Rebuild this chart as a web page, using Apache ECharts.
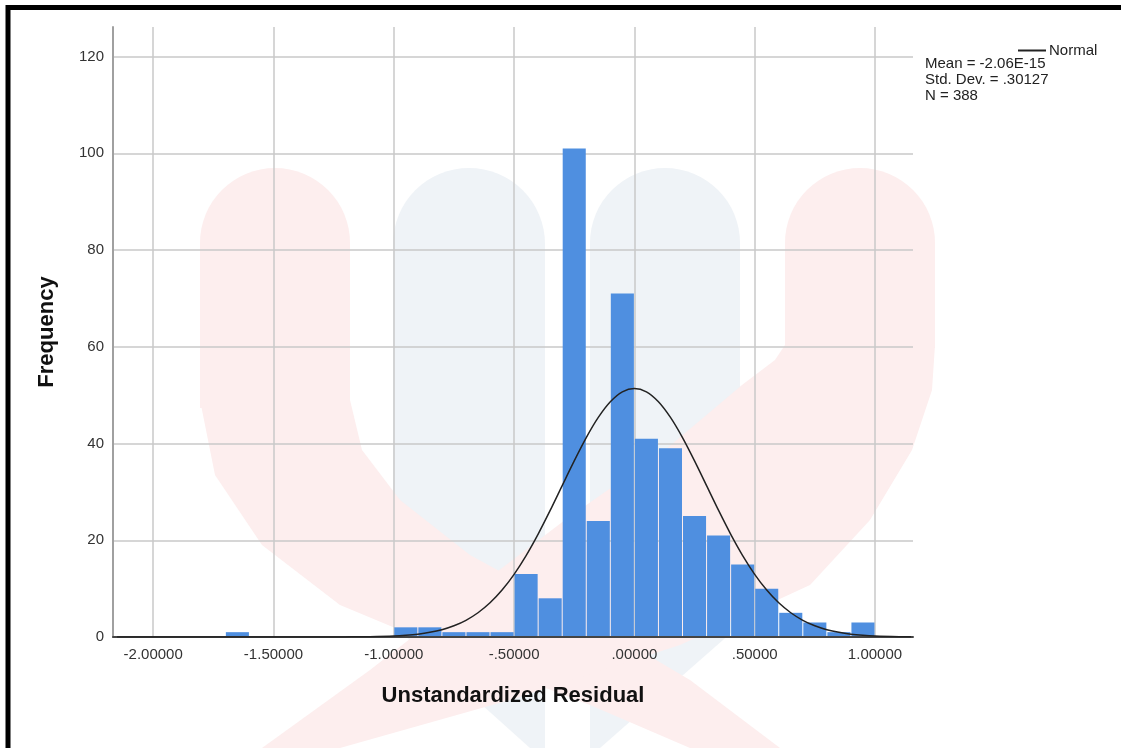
<!DOCTYPE html>
<html>
<head>
<meta charset="utf-8">
<script src="https://cdn.jsdelivr.net/npm/echarts@6/dist/echarts.min.js"></script>
<style>
html,body{margin:0;padding:0;background:#ffffff;}
#chart{width:1121px;height:748px;}
</style>
</head>
<body>
<div id="chart"></div>
<script>
// ---- data ----
const binWidth = 0.1;
const binLower = [-1.7, -1.0, -0.9, -0.8, -0.7, -0.6, -0.5, -0.4, -0.3, -0.2, -0.1, 0.0, 0.1, 0.2, 0.3, 0.4, 0.5, 0.6, 0.7, 0.8, 0.9];
const counts   = [1, 2, 2, 1, 1, 1, 13, 8, 101, 24, 71, 41, 39, 25, 21, 15, 10, 5, 3, 1, 3];

// normal curve
const normalX = [-2.15, -1.2, -1.15, -1.1, -1.0, -0.95, -0.9, -0.85, -0.8, -0.75, -0.7, -0.65, -0.6, -0.55, -0.5, -0.45, -0.4, -0.35, -0.3, -0.25, -0.2, -0.15, -0.1, -0.05, 0.0,
                 0.05, 0.1, 0.15, 0.2, 0.25, 0.3, 0.35, 0.4, 0.45, 0.5, 0.55, 0.6, 0.65, 0.7, 0.75, 0.8, 0.85, 0.9, 0.95, 1.0, 1.1, 1.15];
const normalY = [0.0, 0.02, 0.04, 0.07, 0.21, 0.36, 0.59, 0.96, 1.51, 2.32, 3.45, 5.01, 7.07, 9.71, 12.96, 16.84, 21.28, 26.16, 31.3, 36.41, 41.22, 45.39, 48.63, 50.68, 51.38,
                 50.68, 48.63, 45.39, 41.22, 36.41, 31.3, 26.16, 21.28, 16.84, 12.96, 9.71, 7.07, 5.01, 3.45, 2.32, 1.51, 0.96, 0.59, 0.36, 0.21, 0.07, 0.04];

const statLines = ['Mean = -2.06E-15', 'Std. Dev. = .30127', 'N = 388'];
const seriesName = 'Normal';
const xTitle = 'Unstandardized Residual';
const yTitle = 'Frequency';

// ---- build ----
const histData = binLower.map((lo, i) => [lo, +(lo + binWidth).toFixed(2), counts[i]]);
const curveData = normalX.map((x, i) => [x, normalY[i]]);

function fmtX(v) {
  let s = Math.abs(v).toFixed(5);
  if (s.startsWith('0.')) s = s.substring(1);
  return (v < -1e-9 ? '-' : '') + s;
}

const chart = echarts.init(document.getElementById('chart'), null, {renderer: 'canvas'});
const FONT = 'Liberation Sans, Arial, sans-serif';
const PINK = '#fdeeee';
const BLUE = '#eff3f7';

// faint background watermark (decoration only)
const watermark = [
  {type: 'rect', z: -10, silent: true, shape: {x: 393, y: 168, width: 152, height: 458, r: [76, 76, 0, 0]}, style: {fill: BLUE}},
  {type: 'polygon', z: -10, silent: true, shape: {points: [[393, 625], [545, 625], [545, 748], [530, 748]]}, style: {fill: BLUE}},
  {type: 'rect', z: -10, silent: true, shape: {x: 590, y: 168, width: 150, height: 458, r: [75, 75, 0, 0]}, style: {fill: BLUE}},
  {type: 'polygon', z: -10, silent: true, shape: {points: [[590, 625], [740, 625], [600, 748], [590, 748]]}, style: {fill: BLUE}},
  {type: 'rect', z: -9, silent: true, shape: {x: 200, y: 168, width: 150, height: 240, r: [75, 75, 0, 0]}, style: {fill: PINK}},
  {type: 'polygon', z: -9, silent: true, shape: {points: [[200, 400], [350, 400], [362, 450], [400, 500], [470, 555], [580, 615], [690, 680], [780, 748], [690, 748], [590, 705], [460, 655], [340, 605], [262, 545], [215, 475]]}, style: {fill: PINK}},
  {type: 'rect', z: -9, silent: true, shape: {x: 785, y: 168, width: 150, height: 180, r: [75, 75, 0, 0]}, style: {fill: PINK}},
  {type: 'polygon', z: -9, silent: true, shape: {points: [[785, 345], [935, 345], [932, 390], [912, 450], [870, 520], [810, 585], [680, 645], [510, 700], [340, 748], [262, 748], [370, 670], [460, 600], [565, 520], [665, 450], [742, 385], [775, 360]]}, style: {fill: PINK}}
];

chart.setOption({
  backgroundColor: '#ffffff',
  animation: false,
  grid: {left: 113, right: 208, top: 27, bottom: 111, containLabel: false},
  title: {
    text: statLines.join('\n'),
    left: 920, top: 51,
    textStyle: {fontFamily: FONT, fontSize: 15, fontWeight: 'normal', color: '#222', lineHeight: 16}
  },
  legend: {
    data: [seriesName],
    left: 1013, top: 38,
    itemWidth: 28, itemHeight: 2, itemGap: 4,
    icon: 'rect',
    textStyle: {fontFamily: FONT, fontSize: 15, color: '#222', padding: [0,0,0,-2]}
  },
  xAxis: {
    type: 'value',
    min: -2.167, max: 1.158,
    splitNumber: 7,
    name: xTitle,
    nameLocation: 'middle',
    nameGap: 48,
    nameTextStyle: {fontFamily: FONT, fontSize: 22, fontWeight: 'bold', color: '#111'},
    axisLine: {show: true, onZero: false, lineStyle: {color: '#444', width: 2}},
    axisTick: {show: false},
    axisLabel: {showMinLabel: false, showMaxLabel: false, fontFamily: FONT, fontSize: 15, color: '#333', margin: 10, formatter: fmtX},
    splitLine: {show: true, showMinLine: false, showMaxLine: false, lineStyle: {color: '#c9c9c9', width: 1.5}}
  },
  yAxis: {
    type: 'value',
    min: 0, max: 126.1,
    interval: 20,
    name: yTitle,
    nameLocation: 'middle',
    nameGap: 55,
    nameTextStyle: {fontFamily: FONT, fontSize: 22, fontWeight: 'bold', color: '#111'},
    axisLine: {show: true, onZero: false, lineStyle: {color: '#a0a0a0', width: 2}},
    axisTick: {show: false},
    axisLabel: {showMaxLabel: false, fontFamily: FONT, fontSize: 15, color: '#333', margin: 9},
    splitLine: {show: true, showMinLine: false, showMaxLine: false, lineStyle: {color: '#c9c9c9', width: 1.5}}
  },
  graphic: watermark.concat([
    {type: 'rect', z: 100, silent: true, shape: {x: 8, y: 7.5, width: 1300, height: 1000},
     style: {fill: 'none', stroke: '#000', lineWidth: 5}}
  ]),
  series: [
    {
      type: 'custom',
      name: 'Histogram',
      data: histData,
      encode: {x: [0, 1], y: 2},
      z: 2,
      renderItem: function (params, api) {
        const p0 = api.coord([api.value(0), api.value(2)]);
        const p1 = api.coord([api.value(1), 0]);
        return {
          type: 'rect',
          shape: {x: p0[0] + 0.5, y: p0[1], width: p1[0] - p0[0] - 1, height: p1[1] - p0[1] - 1},
          style: {fill: '#4f8fe0'}
        };
      }
    },
    {
      type: 'line',
      name: seriesName,
      data: curveData,
      z: 3,
      symbol: 'none',
      smooth: 0.3,
      lineStyle: {color: '#222', width: 1.5},
      itemStyle: {color: '#222'}
    }
  ]
});
</script>
</body>
</html>
